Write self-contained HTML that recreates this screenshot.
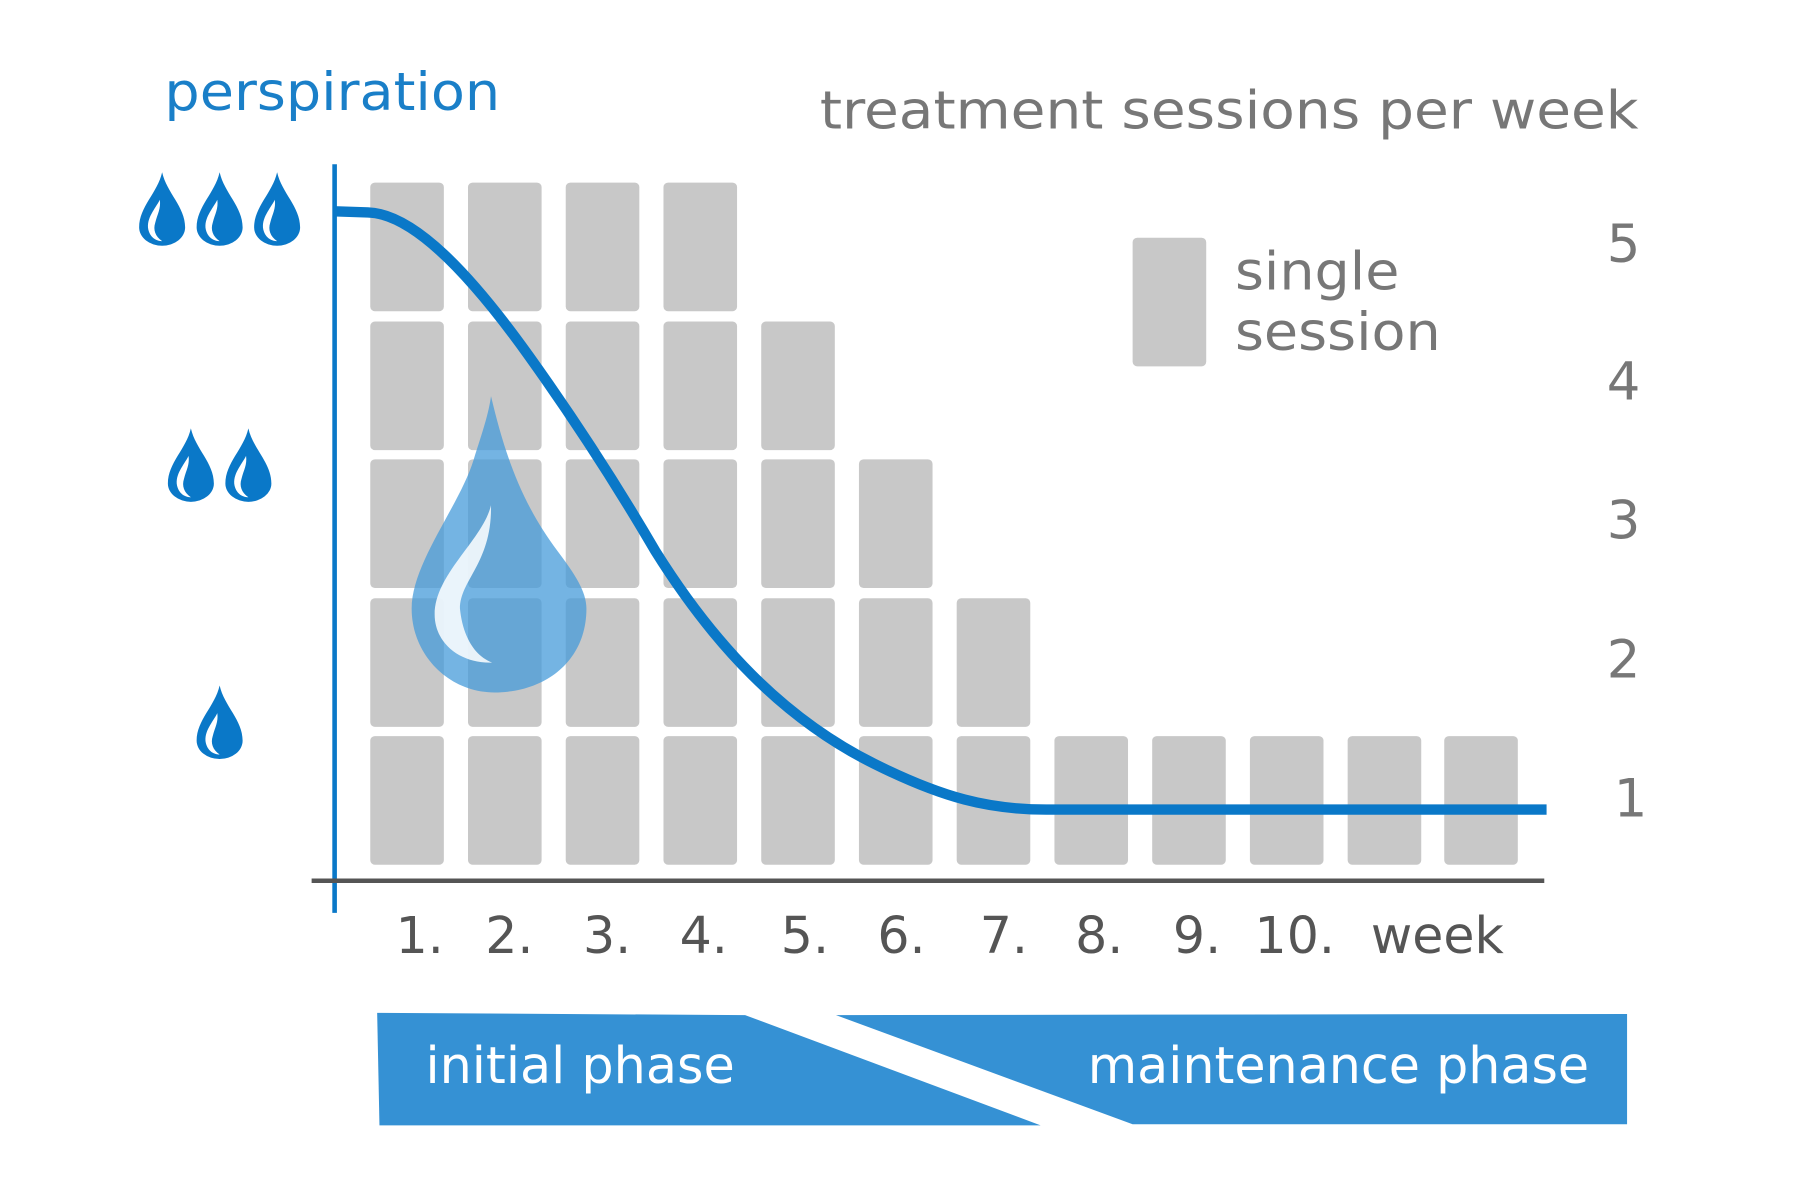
<!DOCTYPE html>
<html><head><style>html,body{margin:0;padding:0;background:#fff}svg{display:block}</style></head>
<body>
<svg width="1803" height="1200" viewBox="0 0 1568 1045" preserveAspectRatio="none" xmlns="http://www.w3.org/2000/svg" font-family="'DejaVu Sans','Liberation Sans',sans-serif">
<defs>
<g id="drop">
<path d="M0,-32 C4,-14 20,-2 20,16 A20,16 0 1 1 -20,16 C-20,-2 -4,-14 0,-32 Z" fill="#0a78c8"/>
<path d="M-2,-8 C-6,0 -14,8 -12,18 C-10,26 -4,28 0,28 C-6,24 -8,18 -6,12 C-4,4 -1,0 -2,-8 Z" fill="#fff"/>
</g>
</defs>
<text x="143" y="96" font-size="46" fill="#1a7fc8" textLength="292" lengthAdjust="spacingAndGlyphs">perspiration</text>
<text x="713" y="112" font-size="46" fill="#777" textLength="712" lengthAdjust="spacingAndGlyphs">treatment sessions per week</text>
<g fill="#c8c8c8">
<g id="c5"><rect x="322" y="159" width="64" height="112" rx="4"/><rect x="322" y="280" width="64" height="112" rx="4"/><rect x="322" y="400" width="64" height="112" rx="4"/><rect x="322" y="521" width="64" height="112" rx="4"/><rect x="322" y="641" width="64" height="112" rx="4"/></g>
<use href="#c5" x="85"/><use href="#c5" x="170"/><use href="#c5" x="255"/>
<rect x="662" y="280" width="64" height="112" rx="4"/><rect x="662" y="400" width="64" height="112" rx="4"/><rect x="662" y="521" width="64" height="112" rx="4"/><rect x="662" y="641" width="64" height="112" rx="4"/>
<rect x="747" y="400" width="64" height="112" rx="4"/><rect x="747" y="521" width="64" height="112" rx="4"/><rect x="747" y="641" width="64" height="112" rx="4"/>
<rect x="832" y="521" width="64" height="112" rx="4"/><rect x="832" y="641" width="64" height="112" rx="4"/>
<rect x="917" y="641" width="64" height="112" rx="4"/><rect x="1002" y="641" width="64" height="112" rx="4"/><rect x="1087" y="641" width="64" height="112" rx="4"/><rect x="1172" y="641" width="64" height="112" rx="4"/><rect x="1256" y="641" width="64" height="112" rx="4"/>
<rect x="985" y="207" width="64" height="112" rx="4"/>
</g>
<text x="1074" y="252" font-size="46" fill="#777" textLength="143" lengthAdjust="spacingAndGlyphs">single</text>
<text x="1074" y="305" font-size="46" fill="#777" textLength="179" lengthAdjust="spacingAndGlyphs">session</text>
<g font-size="46" fill="#777" text-anchor="middle">
<text x="1412" y="228">5</text><text x="1412" y="348">4</text><text x="1412" y="469">3</text><text x="1412" y="590">2</text><text x="1418" y="711">1</text>
</g>
<path d="M427,345 C440,400 455,440 485,480 C500,500 510,515 510,530 C510,575 475,603 430,603 C390,603 358,570 358,530 C358,490 400,440 412,400 C420,375 425,360 427,345 Z" fill="rgba(70,155,218,0.75)"/>
<path d="M427,440 C420,470 378,500 378,535 C378,560 400,578 428,577 C410,570 402,550 400,530 C400,505 428,490 427,440 Z" fill="rgba(255,255,255,0.85)"/>
<line x1="291" y1="143" x2="291" y2="795" stroke="#0a78c8" stroke-width="4"/>
<line x1="271" y1="767" x2="1343" y2="767" stroke="#555" stroke-width="4"/>
<path d="M291,184 L320,185 C360,186 410,240 460,310 C500,366 535,420 570,480 C620,560 680,625 760,665 C820,695 860,705 910,705 L1345,705" fill="none" stroke="#0a78c8" stroke-width="9"/>
<use href="#drop" x="141" y="182"/><use href="#drop" x="191" y="182"/><use href="#drop" x="241" y="182"/>
<use href="#drop" x="166" y="405"/><use href="#drop" x="216" y="405"/>
<use href="#drop" x="191" y="629"/>
<g font-size="44" fill="#555" text-anchor="middle">
<text x="365" y="830">1.</text><text x="443" y="830">2.</text><text x="528" y="830">3.</text><text x="612" y="830">4.</text><text x="700" y="830">5.</text><text x="784" y="830">6.</text><text x="873" y="830">7.</text><text x="956" y="830">8.</text><text x="1041" y="830">9.</text><text x="1126" y="830">10.</text><text x="1250" y="830">week</text>
</g>
<polygon points="328,882 648,884 905,980 330,980" fill="#3591d4"/>
<polygon points="727,884 1415,883 1415,979 985,979" fill="#3591d4"/>
<text x="370" y="943" font-size="44" fill="#fff" textLength="269" lengthAdjust="spacingAndGlyphs">initial phase</text>
<text x="946" y="943" font-size="44" fill="#fff" textLength="436" lengthAdjust="spacingAndGlyphs">maintenance phase</text>
</svg>
</body></html>
